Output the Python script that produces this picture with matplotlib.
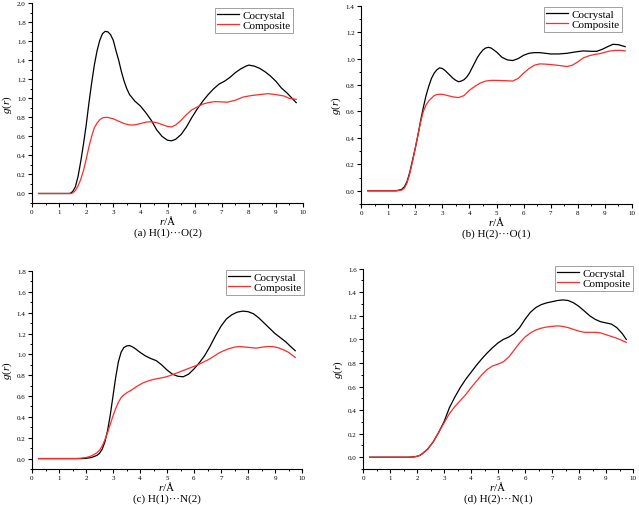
import matplotlib
matplotlib.use("Agg")
import matplotlib.pyplot as plt
from matplotlib.ticker import MultipleLocator

plt.rcParams['font.family'] = ['Liberation Serif', 'DejaVu Serif']
plt.rcParams['mathtext.fontset'] = 'custom'
plt.rcParams['mathtext.it'] = 'Liberation Serif:italic'
plt.rcParams['mathtext.rm'] = 'Liberation Serif'

# ---- data ----
# (a) H(1)...O(2)
a_cx = [0.25, 1.0, 1.4, 1.5, 1.6, 1.7, 1.8, 1.9, 2.0, 2.1, 2.2, 2.3, 2.4, 2.5, 2.6, 2.7, 2.8, 2.9,
        3.0, 3.1, 3.2, 3.3, 3.4, 3.5, 3.6, 3.8, 4.0, 4.2, 4.4, 4.6, 4.8, 5.0, 5.15, 5.3, 5.5, 5.7,
        5.9, 6.1, 6.3, 6.5, 6.7, 6.9, 7.1, 7.3, 7.5, 7.7, 7.9, 8.0, 8.2, 8.4, 8.6, 8.8, 9.0, 9.2,
        9.4, 9.6, 9.75]
a_cy = [0, 0, 0, 0.02, 0.07, 0.18, 0.34, 0.52, 0.72, 0.95, 1.16, 1.35, 1.50, 1.61, 1.68, 1.705,
        1.70, 1.67, 1.61, 1.50, 1.40, 1.28, 1.18, 1.10, 1.04, 0.97, 0.92, 0.85, 0.77, 0.67, 0.60,
        0.56, 0.554, 0.57, 0.62, 0.70, 0.80, 0.89, 0.97, 1.04, 1.10, 1.15, 1.18, 1.22, 1.27, 1.31,
        1.34, 1.35, 1.34, 1.316, 1.28, 1.235, 1.18, 1.11, 1.06, 1.0, 0.955]
a_px = [0.25, 1.0, 1.45, 1.5, 1.6, 1.7, 1.8, 1.9, 2.0, 2.1, 2.2, 2.3, 2.4, 2.5, 2.6, 2.7, 2.8,
        3.0, 3.2, 3.4, 3.6, 3.8, 4.0, 4.2, 4.4, 4.6, 4.8, 5.0, 5.15, 5.3, 5.5, 5.7, 5.9, 6.1, 6.3,
        6.5, 6.7, 6.9, 7.2, 7.5, 7.8, 8.1, 8.4, 8.7, 9.0, 9.3, 9.5, 9.75]
a_py = [0, 0, 0, 0.005, 0.03, 0.08, 0.15, 0.24, 0.36, 0.49, 0.60, 0.69, 0.74, 0.775, 0.795, 0.80,
        0.80, 0.785, 0.76, 0.735, 0.72, 0.722, 0.735, 0.75, 0.755, 0.745, 0.725, 0.705, 0.70, 0.72,
        0.77, 0.83, 0.88, 0.91, 0.94, 0.955, 0.965, 0.965, 0.96, 0.98, 1.015, 1.03, 1.04, 1.05,
        1.04, 1.025, 1.0, 0.99]

# (b) H(2)...O(1)
b_cx = [0.25, 1.0, 1.3, 1.5, 1.6, 1.7, 1.8, 1.9, 2.0, 2.1, 2.2, 2.3, 2.4, 2.5, 2.6, 2.7, 2.8, 2.9,
        3.0, 3.1, 3.2, 3.3, 3.4, 3.5, 3.6, 3.7, 3.8, 3.9, 4.0, 4.1, 4.2, 4.3, 4.4, 4.5, 4.6, 4.7,
        4.8, 5.0, 5.2, 5.4, 5.6, 5.8, 6.0, 6.2, 6.4, 6.6, 6.8, 7.0, 7.3, 7.6, 7.9, 8.2, 8.5, 8.7,
        8.9, 9.1, 9.3, 9.5, 9.75]
b_cy = [0, 0, 0, 0.01, 0.03, 0.07, 0.14, 0.23, 0.32, 0.42, 0.53, 0.63, 0.72, 0.79, 0.85, 0.89,
        0.915, 0.93, 0.925, 0.91, 0.89, 0.87, 0.85, 0.835, 0.825, 0.83, 0.84, 0.86, 0.89, 0.93,
        0.97, 1.01, 1.04, 1.065, 1.08, 1.085, 1.08, 1.05, 1.01, 0.99, 0.985, 1.0, 1.025, 1.04,
        1.045, 1.045, 1.04, 1.035, 1.035, 1.04, 1.05, 1.058, 1.055, 1.055, 1.07, 1.09, 1.108,
        1.105, 1.09]
b_px = [0.25, 1.0, 1.3, 1.5, 1.6, 1.7, 1.8, 1.9, 2.0, 2.1, 2.2, 2.3, 2.4, 2.5, 2.6, 2.7, 2.8, 2.9,
        3.0, 3.2, 3.4, 3.6, 3.8, 4.0, 4.2, 4.4, 4.6, 4.8, 5.0, 5.3, 5.6, 5.8, 6.0, 6.2, 6.4, 6.6,
        6.8, 7.0, 7.3, 7.6, 7.8, 8.0, 8.2, 8.4, 8.6, 8.8, 9.0, 9.2, 9.4, 9.6, 9.75]
b_py = [0, 0, 0, 0.005, 0.02, 0.06, 0.13, 0.22, 0.32, 0.42, 0.52, 0.60, 0.65, 0.68, 0.70, 0.72,
        0.728, 0.73, 0.73, 0.72, 0.71, 0.705, 0.72, 0.76, 0.79, 0.815, 0.83, 0.835, 0.835, 0.833,
        0.83, 0.85, 0.89, 0.925, 0.95, 0.96, 0.958, 0.955, 0.948, 0.94, 0.95, 0.975, 1.005, 1.02,
        1.03, 1.037, 1.048, 1.058, 1.062, 1.062, 1.058]

# (c) H(1)...N(2)
c_cx = [0.25, 1.0, 1.8, 2.0, 2.2, 2.4, 2.5, 2.6, 2.7, 2.8, 2.9, 3.0, 3.1, 3.2, 3.3, 3.4, 3.5, 3.6,
        3.7, 3.8, 4.0, 4.2, 4.4, 4.6, 4.8, 5.0, 5.2, 5.4, 5.6, 5.8, 6.0, 6.2, 6.4, 6.6, 6.8, 7.0,
        7.2, 7.4, 7.6, 7.8, 8.0, 8.2, 8.4, 8.6, 8.8, 9.0, 9.2, 9.4, 9.6, 9.75]
c_cy = [0, 0, 0, 0.002, 0.01, 0.03, 0.05, 0.09, 0.16, 0.27, 0.42, 0.60, 0.78, 0.93, 1.02, 1.065,
        1.08, 1.085, 1.075, 1.06, 1.02, 0.985, 0.96, 0.94, 0.90, 0.85, 0.81, 0.79, 0.785, 0.81,
        0.86, 0.92, 0.99, 1.08, 1.18, 1.27, 1.34, 1.38, 1.405, 1.415, 1.41, 1.39, 1.35, 1.30,
        1.25, 1.20, 1.16, 1.12, 1.07, 1.035]
c_px = [0.25, 1.0, 1.6, 1.8, 2.0, 2.2, 2.4, 2.5, 2.6, 2.7, 2.8, 2.9, 3.0, 3.1, 3.2, 3.3, 3.4, 3.5,
        3.7, 3.9, 4.1, 4.3, 4.5, 4.7, 4.9, 5.1, 5.3, 5.5, 5.7, 5.9, 6.1, 6.3, 6.5, 6.7, 6.9, 7.1,
        7.3, 7.5, 7.7, 7.9, 8.1, 8.3, 8.5, 8.7, 8.9, 9.1, 9.3, 9.5, 9.75]
c_py = [0, 0, 0, 0.003, 0.01, 0.025, 0.055, 0.08, 0.12, 0.18, 0.25, 0.33, 0.41, 0.48, 0.54, 0.585,
        0.61, 0.63, 0.66, 0.695, 0.725, 0.745, 0.76, 0.77, 0.78, 0.795, 0.815, 0.835, 0.855, 0.875,
        0.895, 0.92, 0.945, 0.975, 1.01, 1.035, 1.055, 1.07, 1.075, 1.07, 1.065, 1.06, 1.068,
        1.075, 1.075, 1.065, 1.045, 1.02, 0.97]

# (d) H(2)...N(1)
d_cx = [0.25, 1.0, 1.7, 1.9, 2.0, 2.1, 2.2, 2.4, 2.6, 2.8, 3.0, 3.2, 3.4, 3.6, 3.8, 4.0, 4.2, 4.4,
        4.6, 4.8, 5.0, 5.2, 5.4, 5.6, 5.8, 6.0, 6.2, 6.4, 6.6, 6.8, 7.0, 7.2, 7.4, 7.6, 7.8, 8.0,
        8.2, 8.4, 8.6, 8.8, 9.0, 9.2, 9.4, 9.6, 9.75]
d_cy = [0, 0, 0, 0.003, 0.008, 0.015, 0.03, 0.07, 0.13, 0.21, 0.30, 0.42, 0.51, 0.59, 0.66, 0.72,
        0.78, 0.835, 0.885, 0.93, 0.97, 1.0, 1.02, 1.05, 1.10, 1.17, 1.23, 1.27, 1.295, 1.31, 1.32,
        1.33, 1.335, 1.33, 1.31, 1.28, 1.24, 1.20, 1.17, 1.15, 1.14, 1.13, 1.10, 1.05, 1.0]
d_px = [0.25, 1.0, 1.7, 1.9, 2.0, 2.1, 2.2, 2.4, 2.6, 2.8, 3.0, 3.2, 3.4, 3.6, 3.8, 4.0, 4.2, 4.4,
        4.6, 4.8, 5.0, 5.2, 5.4, 5.6, 5.8, 6.0, 6.2, 6.4, 6.6, 6.8, 7.0, 7.2, 7.4, 7.6, 7.8, 8.0,
        8.2, 8.4, 8.6, 8.8, 9.0, 9.2, 9.4, 9.6, 9.75]
d_py = [0, 0, 0, 0.003, 0.008, 0.015, 0.03, 0.07, 0.13, 0.21, 0.29, 0.37, 0.43, 0.48, 0.53, 0.59,
        0.645, 0.70, 0.745, 0.775, 0.79, 0.81, 0.85, 0.91, 0.97, 1.02, 1.055, 1.08, 1.095, 1.105,
        1.11, 1.115, 1.11, 1.10, 1.085, 1.07, 1.06, 1.06, 1.06, 1.055, 1.04, 1.025, 1.01, 0.99,
        0.975]

captions = ["(a) H(1)\u00b7\u00b7\u00b7O(2)", "(b) H(2)\u00b7\u00b7\u00b7O(1)",
            "(c) H(1)\u00b7\u00b7\u00b7N(2)", "(d) H(2)\u00b7\u00b7\u00b7N(1)"]
y_tops = [2.0, 1.4, 1.8, 1.6]
series_names = ["Cocrystal", "Composite"]

panels = [(a_cx, a_cy, a_px, a_py), (b_cx, b_cy, b_px, b_py),
          (c_cx, c_cy, c_px, c_py), (d_cx, d_cy, d_px, d_py)]

# ---- layout (pixels in a 639x506 figure) ----
W, H = 639, 506
# left, right, top(of y_top), bottom
boxes = [(32, 303, 4.3, 204), (361, 632, 6.7, 205), (32, 302, 272, 470), (363, 633, 269.7, 470)]
legend_corner = [(293, 9), (622, 8), (304, 271), (633, 267)]

fig = plt.figure(figsize=(W / 100, H / 100), dpi=100)

for i, (cx, cy, px, py) in enumerate(panels):
    l, r, t, b = boxes[i]
    ax = fig.add_axes([l / W, 1 - b / H, (r - l) / W, (b - t) / H])
    ax.plot(cx, cy, color='black', lw=0.9, label=series_names[0])
    ax.plot(px, py, color='#ff2a2a', lw=0.9, label=series_names[1])
    ax.set_xlim(0, 10)
    ax.set_ylim(-0.1, y_tops[i])
    ax.xaxis.set_major_locator(MultipleLocator(1))
    ax.xaxis.set_minor_locator(MultipleLocator(0.5))
    ax.yaxis.set_major_locator(MultipleLocator(0.2))
    ax.yaxis.set_minor_locator(MultipleLocator(0.1))
    ax.set_yticks([v / 10 for v in range(0, int(round(y_tops[i] * 10)) + 1, 2)])
    ax.yaxis.set_major_formatter(plt.FormatStrFormatter('%.1f'))
    ax.tick_params(which='major', direction='out', length=3, width=0.8, labelsize=5, pad=1.5)
    ax.tick_params(which='minor', direction='out', length=1.6, width=0.7)
    for s in ['top', 'right']:
        ax.spines[s].set_visible(False)
    for s in ['left', 'bottom']:
        ax.spines[s].set_linewidth(0.8)
    ax.set_ylabel('$g$($r$)', fontsize=8, labelpad=2)
    fig.text((l + 5 * (r - l) / 10) / W, 1 - (b + 17) / H, '$r$/\u00c5', fontsize=8,
             ha='center', va='center')
    fig.text((l + 5 * (r - l) / 10) / W, 1 - (b + 29) / H, captions[i], fontsize=8,
             ha='center', va='center')
    lx, ly = legend_corner[i]
    leg = ax.legend(loc='upper right', bbox_to_anchor=(lx / W, 1 - ly / H),
                    bbox_transform=fig.transFigure, fontsize=8, frameon=True, fancybox=False,
                    borderpad=0.2, handlelength=2.0, handletextpad=0.3, labelspacing=0.05,
                    borderaxespad=0)
    leg.get_frame().set_edgecolor('#888888')
    leg.get_frame().set_linewidth(0.7)

fig.savefig("out.png", dpi=100)
